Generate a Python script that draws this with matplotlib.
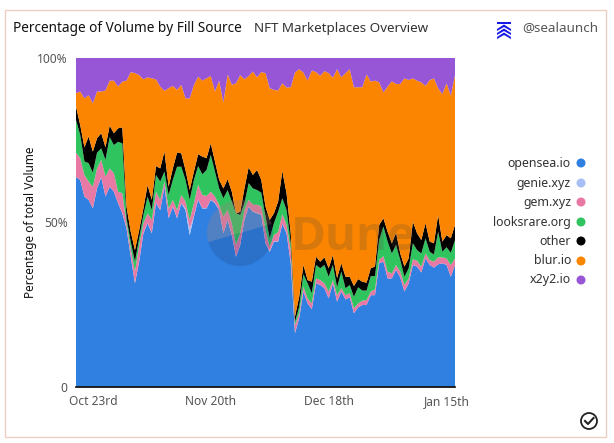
import numpy as np
import pandas as pd
import matplotlib
matplotlib.use("Agg")
import matplotlib.pyplot as plt
from matplotlib.patches import Circle, Polygon, Rectangle, Wedge

# stacked tops, in percent of total volume
opensea_top = [63.7, 62.9, 57.8, 56.8, 54.2, 60.3, 63.7, 57.8, 60.8, 59.3, 55.8, 52.7, 48.1, 39.5, 31.4, 38.0,
               46.6, 49.7, 46.6, 55.8, 53.7, 60.8, 51.2, 54.7, 51.2, 55.8, 53.7, 46.1, 51.7, 56.8, 54.2, 54.2,
               56.8, 55.8, 53.7, 46.6, 50.7, 46.1, 39.5, 43.1, 50.7, 54.7, 53.2, 52.7, 52.2, 43.6, 41.0, 44.1,
               44.1, 49.5, 46.6, 37.5, 16.2, 20.8, 28.9, 25.3, 23.5, 31.4, 30.9, 29.9, 26.8, 31.4, 25.8, 28.9,
               26.5, 27.1, 22.3, 24.1, 24.8, 24.8, 27.8, 27.8, 37.5, 38.0, 32.9, 32.9, 35.5, 33.2, 28.9, 31.4,
               37.0, 36.5, 34.7, 39.0, 37.0, 36.2, 37.2, 37.5, 37.0, 33.4, 37.0]
genie_share = [0.0, 0.0, 0.0, 0.0, 0.0, 0.0, 0.0, 0.0, 0.0, 0.0, 0.0, 0.0, 0.1, 0.1, 0.1, 0.1,
               0.1, 0.1, 0.1, 0.1, 0.1, 0.1, 0.1, 0.1, 0.1, 0.1, 0.5, 2.0, 0.2, 0.1, 0.1, 0.1,
               0.1, 0.1, 0.1, 0.1, 0.1, 0.1, 0.1, 0.1, 0.1, 0.1, 0.1, 0.1, 0.1, 0.1, 0.1, 0.1,
               0.1, 0.1, 0.1, 0.1, 0.1, 0.1, 0.0, 0.0, 0.0, 0.0, 0.0, 0.0, 0.0, 0.0, 0.0, 0.0,
               0.0, 0.0, 0.0, 0.0, 0.0, 0.0, 0.0, 0.0, 0.0, 0.0, 0.0, 0.0, 0.0, 0.0, 0.0, 0.0,
               0.0, 0.0, 0.0, 0.0, 0.0, 0.0, 0.0, 0.0, 0.0, 0.0, 0.0]
gem_top = [71.2, 69.5, 64.4, 62.4, 60.8, 66.4, 69.0, 63.9, 66.4, 64.9, 59.3, 58.8, 49.7, 42.0, 35.0, 43.0,
           49.7, 52.7, 50.7, 59.3, 56.8, 62.4, 54.2, 56.8, 53.7, 58.3, 56.3, 50.7, 55.8, 61.4, 58.3, 58.0,
           59.3, 57.8, 55.3, 51.7, 53.7, 49.7, 43.1, 46.6, 53.7, 56.8, 55.3, 55.3, 54.8, 47.6, 42.6, 46.1,
           47.0, 52.5, 49.2, 41.5, 18.7, 22.3, 30.4, 26.8, 25.3, 32.9, 32.4, 31.4, 28.9, 32.4, 27.8, 29.9,
           27.8, 28.4, 23.8, 25.3, 26.1, 26.3, 28.9, 29.6, 38.5, 39.7, 35.0, 34.4, 37.0, 35.0, 30.9, 32.9,
           38.7, 38.3, 36.5, 40.5, 38.5, 38.0, 39.3, 39.3, 39.0, 37.0, 39.0]
looksrare_top = [81.1, 76.6, 68.5, 68.0, 65.1, 71.2, 72.5, 69.0, 75.9, 73.5, 74.5, 74.0, 51.2, 44.1, 38.0, 45.1,
                 52.2, 57.8, 53.7, 64.4, 62.4, 65.4, 58.3, 62.9, 66.9, 66.9, 62.9, 56.8, 62.9, 67.1, 64.6, 65.9,
                 70.5, 65.4, 60.3, 57.3, 59.8, 56.3, 52.7, 52.2, 55.8, 61.9, 60.3, 59.8, 59.0, 51.7, 45.1, 49.7,
                 53.2, 57.3, 53.7, 43.6, 19.7, 24.3, 34.2, 31.4, 28.4, 37.0, 36.0, 37.0, 33.4, 37.0, 30.2, 35.0,
                 29.9, 30.9, 27.3, 30.2, 29.2, 29.2, 33.6, 33.6, 44.6, 48.7, 44.1, 40.5, 43.1, 38.5, 33.4, 36.0,
                 43.6, 41.5, 40.5, 45.1, 41.0, 40.2, 47.1, 41.0, 42.4, 40.7, 44.6]
other_top = [85.2, 79.6, 72.8, 76.1, 71.5, 75.6, 77.1, 72.8, 79.4, 77.1, 78.6, 78.9, 54.7, 47.1, 41.5, 47.6,
             54.2, 61.3, 56.8, 67.1, 66.4, 71.5, 60.8, 66.4, 71.2, 71.0, 65.9, 59.8, 65.4, 70.7, 70.0, 69.5,
             74.0, 68.5, 62.9, 60.3, 63.1, 59.3, 52.7, 53.2, 60.3, 66.7, 64.4, 65.9, 62.9, 54.8, 50.7, 52.7,
             56.3, 65.6, 58.8, 46.6, 21.3, 27.3, 37.0, 32.4, 31.9, 39.5, 38.0, 39.3, 36.0, 40.0, 33.0, 37.5,
             33.4, 33.4, 30.6, 32.7, 31.9, 31.6, 36.0, 36.5, 49.2, 51.2, 47.1, 43.6, 46.8, 40.5, 36.5, 39.0,
             50.2, 46.6, 44.6, 49.7, 44.1, 43.6, 52.2, 44.1, 46.1, 45.1, 49.2]
blur_top = [89.3, 89.8, 87.7, 88.7, 86.2, 89.8, 89.8, 90.1, 93.1, 93.1, 91.3, 92.8, 93.1, 95.7, 95.4, 94.8,
            93.5, 94.1, 93.8, 93.5, 91.3, 90.0, 90.8, 91.5, 90.3, 91.8, 87.7, 87.7, 91.8, 94.3, 93.1, 93.8,
            94.5, 89.8, 93.1, 86.4, 95.0, 91.8, 92.3, 94.8, 93.5, 94.5, 95.9, 94.1, 95.7, 95.4, 90.8, 90.3,
            90.1, 92.3, 91.0, 91.1, 95.6, 96.6, 95.6, 93.1, 96.2, 95.7, 94.6, 96.0, 95.4, 94.0, 96.6, 94.1,
            95.4, 96.6, 91.1, 91.1, 91.1, 95.0, 92.8, 93.1, 92.6, 89.5, 91.3, 92.9, 92.1, 92.1, 93.8, 93.3,
            93.8, 93.1, 92.6, 91.5, 93.3, 93.8, 90.8, 89.0, 92.3, 88.5, 94.8]

series_names = ["opensea.io", "genie.xyz", "gem.xyz", "looksrare.org", "other", "blur.io", "x2y2.io"]
series_colors = ["#2f80e0", "#a6bff5", "#e878a4", "#2fc45e", "#000000", "#fb8500", "#9656d6"]
tick_dates = ["2022-10-23", "2022-11-20", "2022-12-18", "2023-01-15"]
tick_labels = ["Oct 23rd", "Nov 20th", "Dec 18th", "Jan 15th"]

W, H = 614, 443
plt.rcParams["font.family"] = ["Noto Sans", "DejaVu Sans"]

fig = plt.figure(figsize=(W / 100, H / 100), dpi=100, facecolor="white")
ax = fig.add_axes([76 / W, 1 - 386.5 / H, 379 / W, 328.5 / H])

dates = pd.date_range("2022-10-19", periods=len(opensea_top), freq="D")
opensea = np.array(opensea_top)
genie = np.array(genie_share)
gem = np.array(gem_top) - opensea - genie
looksrare = np.array(looksrare_top) - np.array(gem_top)
other = np.array(other_top) - np.array(looksrare_top)
blur = np.array(blur_top) - np.array(other_top)
x2y2 = 100 - np.array(blur_top)

ax.stackplot(dates, opensea, genie, gem, looksrare, other, blur, x2y2,
             colors=series_colors, linewidth=0)
ax.set_xlim(dates[0], dates[-1])
ax.set_ylim(0, 100)
for side in ["top", "right", "left"]:
    ax.spines[side].set_visible(False)
ax.spines["bottom"].set_linewidth(1.2)
ax.spines["bottom"].set_color("black")
ax.set_yticks([0, 50, 100], ["0", "50%", "100%"])
ax.set_xticks(pd.to_datetime(tick_dates), tick_labels)
ax.tick_params(length=0, labelsize=8.6, labelcolor="#555555")
ax.tick_params(axis="x", pad=6)
ax.tick_params(axis="y", pad=6)

# overlay in pixel coordinates for everything around the chart
wm = fig.add_axes([0, 0, 1, 1], facecolor="none", zorder=2)
wm.set_xlim(0, W)
wm.set_ylim(H, 0)
wm.axis("off")

# watermark
wm.add_patch(Wedge((240, 233), 33, -16, 164, facecolor="#1f3f80", alpha=0.22, linewidth=0))
wm.add_patch(Wedge((240, 233), 33, 164, 344, facecolor="#a08080", alpha=0.30, linewidth=0))
wm.text(291, 250, "Dune", fontsize=34, fontweight="bold", color="#5a4a3a", alpha=0.22,
        ha="left", va="baseline", family="Open Sans")

# card frame
wm.add_patch(Rectangle((5, 10), 601, 427, fill=False, edgecolor="#eecdc2", linewidth=1))

# header
wm.text(13, 28, "Percentage of Volume by Fill Source", fontsize=9.8, fontweight="medium",
        color="#111111", va="center", ha="left")
wm.text(254, 28, "NFT Marketplaces Overview", fontsize=9.65, color="#333333", va="center", ha="left")
wm.text(598, 28, "@sealaunch", fontsize=9.7, color="#555555", va="center", ha="right")
wm.add_patch(Rectangle((497, 22), 14, 2.2, facecolor="#1a1ae6", linewidth=0))
for y0 in [24.5, 28.5, 32.5]:
    wm.add_patch(Polygon([(497, y0 + 4.5), (504, y0), (511, y0 + 4.5), (511, y0 + 6.5), (504, y0 + 2.5), (497, y0 + 6.5)],
                         facecolor="#1a1ae6", linewidth=0))

# y axis title
wm.text(31, 222, "Percentage of total Volume", rotation=90, fontsize=8.5, color="#111111",
        fontweight="medium", va="center", ha="center")

# legend
legend_y = [163, 183, 202, 222, 241, 261, 280]
for name, color, y in zip(series_names, series_colors, legend_y):
    wm.text(571, y, name, fontsize=8.95, color="#333333", ha="right", va="center")
    wm.add_patch(Circle((581, y), 4.5, facecolor=color, linewidth=0))

# check mark badge
wm.add_patch(Circle((589, 421), 8, fill=False, edgecolor="#222222", linewidth=1.3))
wm.plot([585, 588, 593.5], [421, 424, 418], color="#222222", linewidth=1.5)

fig.savefig("out.png", dpi=100)
